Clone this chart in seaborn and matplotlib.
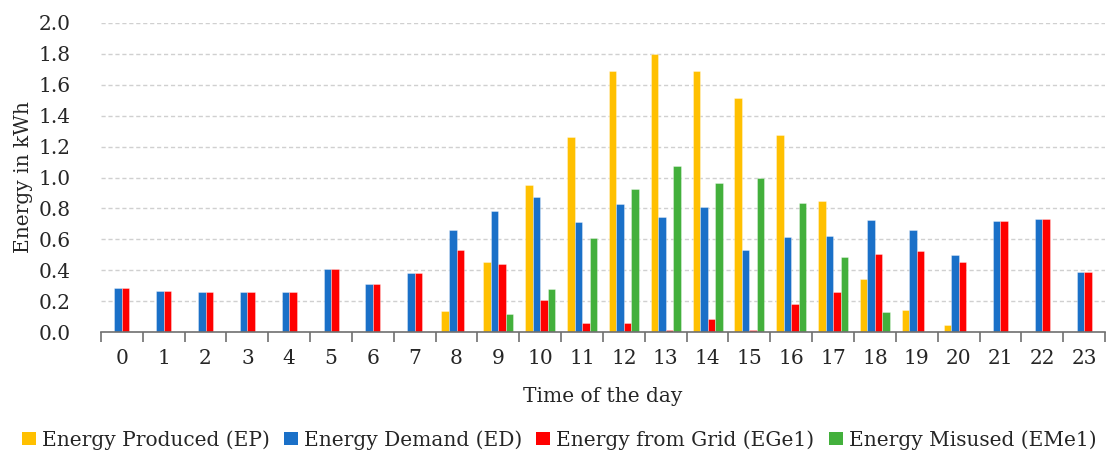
import numpy as np
import pandas as pd
import matplotlib
matplotlib.use("Agg")
import matplotlib.pyplot as plt
import seaborn as sns
from matplotlib.patches import Patch

hours = list(range(24))
ep = [0, 0, 0, 0, 0, 0, 0, 0, 0.136, 0.454, 0.951, 1.26, 1.688, 1.80, 1.688, 1.512,
      1.273, 0.846, 0.346, 0.146, 0.049, 0, 0, 0]
ed = [0.288, 0.267, 0.258, 0.26, 0.26, 0.407, 0.312, 0.381, 0.661, 0.782, 0.876, 0.713,
      0.827, 0.743, 0.81, 0.53, 0.618, 0.62, 0.727, 0.661, 0.499, 0.721, 0.732, 0.388]
egrid = [0.288, 0.267, 0.258, 0.26, 0.26, 0.407, 0.312, 0.381, 0.53, 0.443, 0.209, 0.06,
         0.06, 0.015, 0.088, 0.015, 0.181, 0.258, 0.508, 0.523, 0.454, 0.721, 0.732, 0.388]
emis = [0, 0, 0, 0, 0, 0, 0, 0, 0.005, 0.118, 0.28, 0.607, 0.926, 1.074, 0.967, 0.999,
        0.835, 0.486, 0.129, 0.005, 0, 0, 0, 0]
series_names = ["Energy Produced (EP)", "Energy Demand (ED)",
                "Energy from Grid (EGe1)", "Energy Misused (EMe1)"]
colors = ["#FFC000", "#1A70C8", "#FF0000", "#43B03C"]

rows = []
for name, vals in zip(series_names, [ep, ed, egrid, emis]):
    for h, v in zip(hours, vals):
        rows.append({"hour": str(h), "value": v, "series": name})
df = pd.DataFrame(rows)

sns.set_theme(style="white")
plt.rcParams['font.family'] = ['DejaVu Serif']
FS = 14.5

fig = plt.figure(figsize=(11.07, 4.54), dpi=100)
ax = fig.add_axes([0.0912, 0.268, 0.907, 0.682])

sns.barplot(data=df, x="hour", y="value", hue="series", palette=colors, saturation=1,
            width=0.72, edgecolor=(1, 1, 1, 0.6), linewidth=0.4, ax=ax, legend=False,
            order=[str(h) for h in hours], hue_order=series_names)

ax.set_ylim(0, 2.0)
ax.set_xlim(-0.5, 23.5)
ticks = np.arange(0, 2.01, 0.2)
ax.set_yticks(ticks)
ax.set_yticklabels([f"{v:.1f}" for v in ticks], fontsize=FS)
ax.yaxis.grid(True, linestyle=(0, (3, 2)), color="#d0d0d0", linewidth=1)
ax.set_axisbelow(True)
ax.tick_params(axis="y", length=0, pad=22)

ax.set_xticks(np.arange(24))
ax.set_xticklabels([str(h) for h in hours], fontsize=FS)
ax.set_xticks(np.arange(-0.5, 24, 1), minor=True)
ax.tick_params(axis="x", which="major", length=0, pad=12)
ax.tick_params(axis="x", which="minor", length=7, width=1.2, color="#707070",
               direction="out", bottom=True)

for s in ["top", "right", "left"]:
    ax.spines[s].set_visible(False)
ax.spines["bottom"].set_color("#707070")
ax.spines["bottom"].set_linewidth(1.2)

ax.set_xlabel("Time of the day", fontsize=FS, labelpad=14)
ax.set_ylabel("Energy in kWh", fontsize=FS, labelpad=4)

handles = [Patch(facecolor=c, edgecolor="none") for c in colors]
fig.legend(handles, series_names, loc="center", bbox_to_anchor=(0.505, 0.031), ncol=4,
           frameon=False, fontsize=FS, handlelength=0.7, handleheight=0.65,
           handletextpad=0.3, columnspacing=0.7, borderaxespad=0, borderpad=0)

fig.savefig("out.png", dpi=100)
